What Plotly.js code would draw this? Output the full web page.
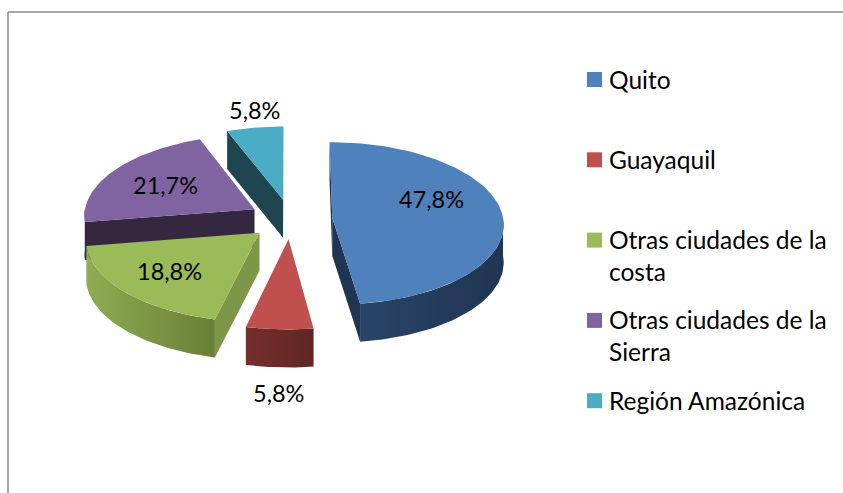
<!DOCTYPE html>
<html>
<head>
<meta charset="utf-8">
<script src="https://cdn.plot.ly/plotly-3.0.1.min.js"></script>
<style>html,body{margin:0;padding:0;background:#fff;overflow:hidden}</style>
</head>
<body>
<div id="chart" style="width:843px;height:493px"></div>
<script>
var categories = ['Quito', 'Guayaquil', 'Otras ciudades de la costa', 'Otras ciudades de la Sierra', 'Región Amazónica'];
var legendLabels = ['Quito', 'Guayaquil', 'Otras ciudades de la<br>costa', 'Otras ciudades de la<br>Sierra', 'Región Amazónica'];
var percentages = [47.8, 5.8, 18.8, 21.7, 5.8];
var topColors = ['#4F81BD', '#C0504D', '#9BBB59', '#8064A2', '#4BACC6'];
var rimLeftColors = ['#2A4468', '#762F2D', '#8FAC52', '#35273F', '#1F4650'];
var rimRightColors = ['#1F3552', '#5F2624', '#687F37', '#35273F', '#1F4650'];
var wallColors = ['#1F3552', '#5F2624', '#7E9647', '#35273F', '#1F4650'];

var FONT = 'Lato, Carlito, Calibri, sans-serif';
var LABEL_SIZE = 23.5, LEGEND_SIZE = 24.5;
var CX = 290.5, CY = 219, RX = 171, RY = 81, PERSP = 0.07, EXPLODE = 0.245, DEPTH = 38;
var total = percentages.reduce(function (a, b) { return a + b; }, 0);

function project(u, v) {
  var s = 1 / (1 - PERSP * v);
  return [CX + RX * u * s, CY + RY * v * s];
}
function arcPoints(a0, a1, ox, oy) {
  var pts = [], n = Math.max(2, Math.ceil((a1 - a0) * 40));
  for (var i = 0; i <= n; i++) {
    var t = a0 + (a1 - a0) * i / n;
    pts.push(project(ox + Math.sin(t), oy - Math.cos(t)));
  }
  return pts;
}
function poly(pts, color, grad) {
  var xs = pts.map(function (p) { return p[0]; }), ys = pts.map(function (p) { return p[1]; });
  xs.push(xs[0]); ys.push(ys[0]);
  var t = { type: 'scatter', mode: 'lines', x: xs, y: ys, fill: 'toself', fillcolor: color,
    line: { width: 0, color: color }, hoverinfo: 'skip', showlegend: false };
  if (grad) t.fillgradient = { type: 'horizontal', colorscale: [[0, grad[0]], [1, grad[1]]] };
  return t;
}
function extrude(pts) {
  var down = pts.map(function (p) { return [p[0], p[1] + DEPTH]; }).reverse();
  return pts.concat(down);
}

var HALF = Math.PI;
var wedges = [], acc = 0;
percentages.forEach(function (p, i) {
  var a0 = acc / total * 2 * Math.PI; acc += p;
  var a1 = acc / total * 2 * Math.PI, mid = (a0 + a1) / 2;
  wedges.push({ i: i, a0: a0, a1: a1, ox: EXPLODE * Math.sin(mid), oy: -EXPLODE * Math.cos(mid) });
});
// paint from the back of the pie to the front
var order = wedges.slice().sort(function (a, b) {
  return a.oy - Math.cos((a.a0 + a.a1) / 2) * 0.3 - (b.oy - Math.cos((b.a0 + b.a1) / 2) * 0.3);
});

var traces = [];
order.forEach(function (w) {
  var apex = project(w.ox, w.oy), arc = arcPoints(w.a0, w.a1, w.ox, w.oy);
  var top = [apex].concat(arc);
  var cen = [0, 0];
  top.forEach(function (p) { cen[0] += p[0] / top.length; cen[1] += p[1] / top.length; });
  [arc[0], arc[arc.length - 1]].forEach(function (end) {
    var ex = end[0] - apex[0], ey = end[1] - apex[1];
    var side = ex * (cen[1] - apex[1]) - ey * (cen[0] - apex[0]);
    if (ex * side < 0) traces.push(poly(extrude([apex, end]), wallColors[w.i]));
  });
  var f0 = Math.max(w.a0, HALF / 2), f1 = Math.min(w.a1, HALF * 1.5);
  if (f1 > f0) traces.push(poly(extrude(arcPoints(f0, f1, w.ox, w.oy)), wallColors[w.i],
    [rimLeftColors[w.i], rimRightColors[w.i]]));
  traces.push(poly(top, topColors[w.i]));
});

var LEG_X = 594.5, LEG_Y0 = 79.5, LEG_STEP = 80.3;
categories.forEach(function (c, i) {
  traces.push({ type: 'scatter', mode: 'markers', name: c, x: [LEG_X], y: [LEG_Y0 + LEG_STEP * i],
    marker: { symbol: 'square', size: 15, color: topColors[i] }, hoverinfo: 'skip', showlegend: false });
});

var labelPos = [[431, 199], [278, 393], [169, 271], [165, 185], [254, 110]];
var annotations = percentages.map(function (p, i) {
  return { x: labelPos[i][0], y: labelPos[i][1], xref: 'x', yref: 'y', showarrow: false,
    text: p.toFixed(1).replace('.', ',') + '%', font: { family: FONT, size: LABEL_SIZE, color: '#000' } };
}).concat(legendLabels.map(function (t, i) {
  return { x: 607.5, y: LEG_Y0 + LEG_STEP * i - 16, xref: 'x', yref: 'y', xanchor: 'left', yanchor: 'top',
    align: 'left', showarrow: false, text: t, borderpad: 0, font: { family: FONT, size: LEGEND_SIZE, color: '#000' } };
}));

var layout = {
  width: 843, height: 493, margin: { l: 0, r: 0, t: 0, b: 0 }, showlegend: false,
  paper_bgcolor: '#fff', plot_bgcolor: '#fff',
  xaxis: { range: [0, 843], visible: false, fixedrange: true },
  yaxis: { range: [493, 0], visible: false, fixedrange: true },
  annotations: annotations,
  shapes: [
    { type: 'line', xref: 'x', yref: 'y', x0: 8, x1: 8, y0: 12, y1: 493, line: { color: '#8a8a8a', width: 1.5 } },
    { type: 'line', xref: 'x', yref: 'y', x0: 8, x1: 843, y0: 12, y1: 12, line: { color: '#8a8a8a', width: 1.5 } }
  ]
};
Plotly.newPlot('chart', traces, layout, { displayModeBar: false, staticPlot: true });
</script>
</body>
</html>
